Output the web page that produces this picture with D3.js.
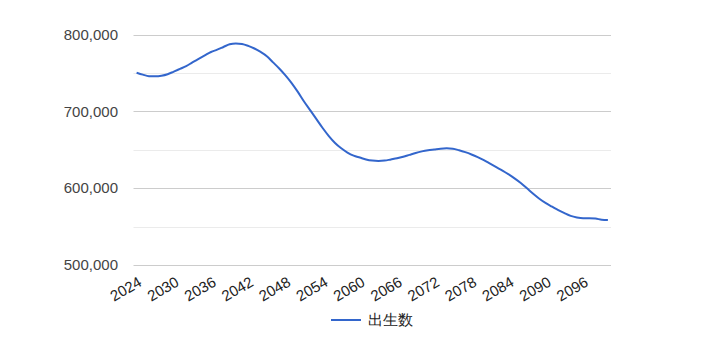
<!DOCTYPE html>
<html><head><meta charset="utf-8">
<script src="https://cdn.jsdelivr.net/npm/d3@7"></script>
<style>body{margin:0;background:#fff;font-family:Arial,"Liberation Sans",sans-serif;}</style>
</head><body>
<svg id="c" width="715" height="357"></svg>
<script>
const years = d3.range(2024, 2101);
const births = [
750500,748000,746000,745800,746500,748500,752000,755500,759000,764000,
768500,773000,777500,780500,784000,787500,788700,788000,785500,782000,
777500,772000,764000,756000,747000,737000,725500,713000,701500,690000,
678500,668000,659000,652000,646500,642500,640000,637500,636000,635500,
636000,637500,639000,641000,643500,646000,648000,649500,650500,651500,
652000,651500,649500,647000,644000,640500,636500,632000,627500,623000,
618000,612500,606500,599500,592500,586000,580500,576000,571500,567500,
564000,562000,561000,561000,560500,559000,558500];
const yTicks = [500000,600000,700000,800000];
const yMinor = [550000,650000,750000];
const xTickYears = d3.range(2024, 2101, 6);
const seriesName = "出生数";

const svg = d3.select("#c");
const pl = 133.5, pr = 611, pt = 34.7, pb = 265;
const x = d3.scalePoint().domain(years).range([pl, pr]).padding(0.5);
const y = d3.scaleLinear().domain([500000, 800000]).range([pb, pt]);

svg.append("g").selectAll("line").data(yMinor).join("line")
  .attr("x1", pl).attr("x2", pr)
  .attr("y1", d => Math.round(y(d)) + 0.5).attr("y2", d => Math.round(y(d)) + 0.5)
  .attr("stroke", "#ebebeb").attr("stroke-width", 1);
svg.append("g").selectAll("line").data(yTicks).join("line")
  .attr("x1", pl).attr("x2", pr)
  .attr("y1", d => Math.round(y(d)) + 0.5).attr("y2", d => Math.round(y(d)) + 0.5)
  .attr("stroke", "#cccccc").attr("stroke-width", 1);

const fmt = d3.format(",");
svg.append("g").selectAll("text").data(yTicks).join("text")
  .attr("x", 118).attr("y", d => y(d)).attr("dy", "0.35em")
  .attr("text-anchor", "end").attr("font-size", 15).attr("fill", "#444")
  .text(d => fmt(d));

svg.append("g").selectAll("text").data(xTickYears).join("text")
  .attr("transform", d => `translate(${x(d) + 1},${276}) rotate(-30)`)
  .attr("text-anchor", "end").attr("font-size", 15).attr("fill", "#222")
  .attr("dy", "0.7em")
  .text(d => d);

const line = d3.line().x((d, i) => x(years[i])).y(d => y(d)).curve(d3.curveMonotoneX);
svg.append("path").datum(births).attr("d", line)
  .attr("fill", "none").attr("stroke", "#3366cc").attr("stroke-width", 2);

const lg = svg.append("g");
lg.append("line").attr("x1", 331).attr("x2", 361).attr("y1", 320).attr("y2", 320)
  .attr("stroke", "#3366cc").attr("stroke-width", 2);
lg.append("text").attr("x", 368).attr("y", 320).attr("dy", "0.35em")
  .attr("font-size", 15).attr("fill", "#222").text(seriesName);
</script>
</body></html>
